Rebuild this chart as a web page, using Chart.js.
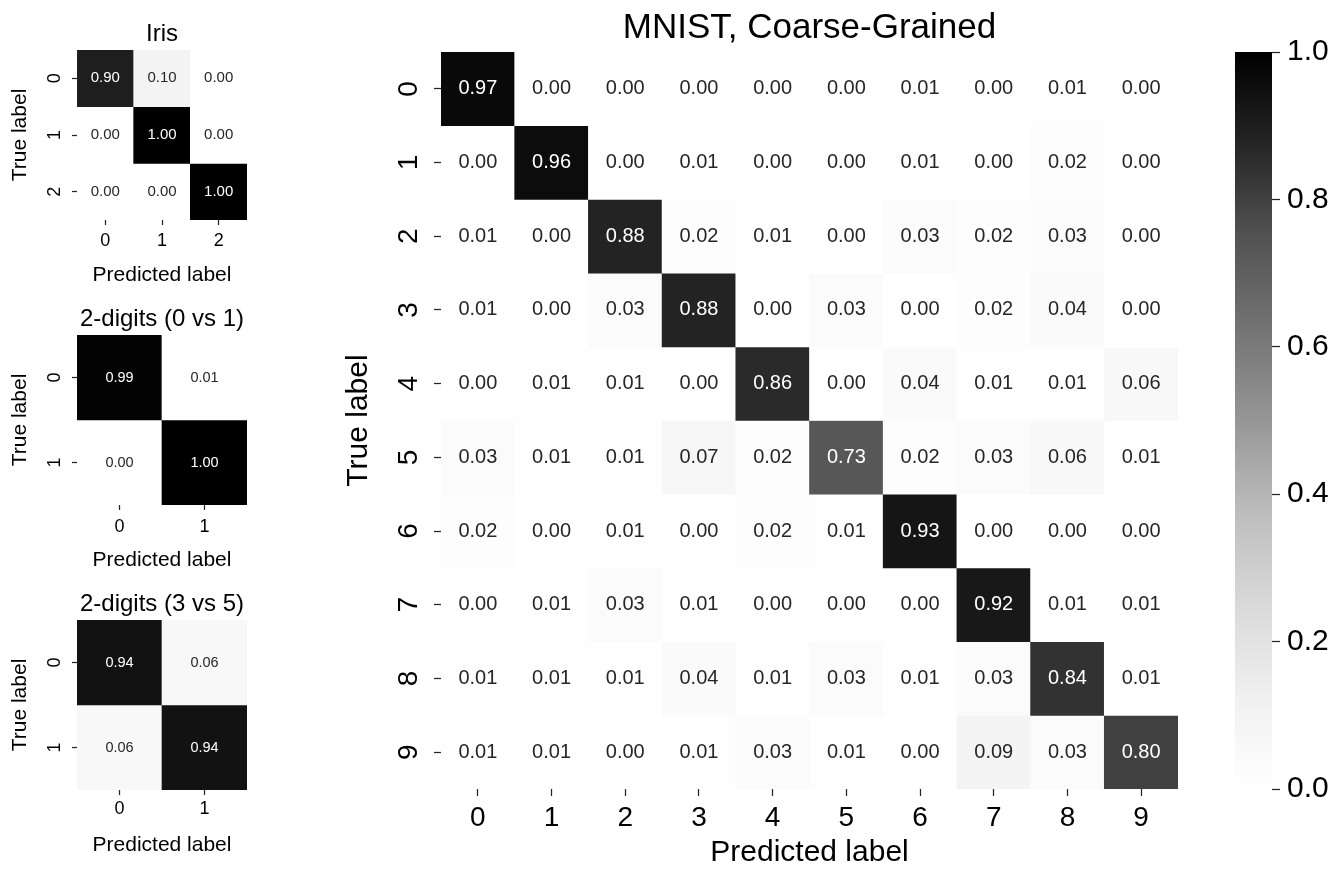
<!DOCTYPE html>
<html>
<head>
<meta charset="utf-8">
<script src="https://cdn.jsdelivr.net/npm/chart.js@4.4.1/dist/chart.umd.min.js"></script>
<style>
  html, body { margin: 0; padding: 0; background: #fff; }
  body { width: 1333px; height: 877px; position: relative; overflow: hidden; }
  canvas { position: absolute; }
</style>
</head>
<body>
<canvas id="mnist" width="939" height="877" style="left:340px;top:0px"></canvas>
<canvas id="barra" width="133" height="877" style="left:1200px;top:0px"></canvas>
<canvas id="iris" width="260" height="290" style="left:0px;top:0px"></canvas>
<canvas id="d01" width="260" height="290" style="left:0px;top:290px"></canvas>
<canvas id="d35" width="260" height="297" style="left:0px;top:580px"></canvas>
<script>
// ============================
// DATA
// ============================
const irisLabels = ['0', '1', '2'];
const irisMatrix = [
  [0.90, 0.10, 0.00],
  [0.00, 1.00, 0.00],
  [0.00, 0.00, 1.00]
];

const digitLabels = ['0', '1'];
const digits01Matrix = [
  [0.99, 0.01],
  [0.00, 1.00]
];
const digits35Matrix = [
  [0.94, 0.06],
  [0.06, 0.94]
];

const mnistLabels = ['0', '1', '2', '3', '4', '5', '6', '7', '8', '9'];
const mnistMatrix = [
  [0.97, 0.00, 0.00, 0.00, 0.00, 0.00, 0.01, 0.00, 0.01, 0.00],
  [0.00, 0.96, 0.00, 0.01, 0.00, 0.00, 0.01, 0.00, 0.02, 0.00],
  [0.01, 0.00, 0.88, 0.02, 0.01, 0.00, 0.03, 0.02, 0.03, 0.00],
  [0.01, 0.00, 0.03, 0.88, 0.00, 0.03, 0.00, 0.02, 0.04, 0.00],
  [0.00, 0.01, 0.01, 0.00, 0.86, 0.00, 0.04, 0.01, 0.01, 0.06],
  [0.03, 0.01, 0.01, 0.07, 0.02, 0.73, 0.02, 0.03, 0.06, 0.01],
  [0.02, 0.00, 0.01, 0.00, 0.02, 0.01, 0.93, 0.00, 0.00, 0.00],
  [0.00, 0.01, 0.03, 0.01, 0.00, 0.00, 0.00, 0.92, 0.01, 0.01],
  [0.01, 0.01, 0.01, 0.04, 0.01, 0.03, 0.01, 0.03, 0.84, 0.01],
  [0.01, 0.01, 0.00, 0.01, 0.03, 0.01, 0.00, 0.09, 0.03, 0.80]
];

const colorbarRange = [0, 1];

// ============================
// COLOUR MAP (matplotlib Greys)
// ============================
const greys = [1.0, 0.941, 0.851, 0.741, 0.588, 0.451, 0.322, 0.145, 0.0];

function greyColor(v) {
  const t = Math.min(Math.max(v, 0), 1) * (greys.length - 1);
  const i = Math.min(Math.floor(t), greys.length - 2);
  const g = greys[i] + (greys[i + 1] - greys[i]) * (t - i);
  const c = Math.round(g * 255);
  return `rgb(${c},${c},${c})`;
}

Chart.defaults.font.family = '"Liberation Sans", Arial, sans-serif';
Chart.defaults.color = '#000';

// ============================
// CELL TEXT
// ============================
const cellText = {
  id: 'cellText',
  afterDatasetsDraw(chart, args, opts) {
    const ctx = chart.ctx;
    ctx.save();
    ctx.font = `${opts.size}px "Liberation Sans", Arial, sans-serif`;
    ctx.textAlign = 'center';
    ctx.textBaseline = 'middle';
    chart.data.datasets.forEach((ds, i) => {
      chart.getDatasetMeta(i).data.forEach((bar, j) => {
        const v = ds.values[j];
        ctx.fillStyle = v > 0.5 ? '#ffffff' : '#262626';
        ctx.fillText(v.toFixed(2), bar.x, (bar.y + bar.base) / 2);
      });
    });
    ctx.restore();
  }
};

// ============================
// HEATMAP
// ============================
function drawMatrix(id, labels, matrix, cfg) {
  const datasets = matrix.map((row, i) => ({
    data: row.map(() => [i - 0.5, i + 0.5]),
    values: row,
    backgroundColor: row.map(v => greyColor(v)),
    borderWidth: 0,
    barPercentage: 1,
    categoryPercentage: 1,
    grouped: false
  }));

  new Chart(document.getElementById(id), {
    type: 'bar',
    data: { labels, datasets },
    options: {
      responsive: false,
      animation: false,
      layout: { padding: { left: 0, right: cfg.padRight, top: 0, bottom: 0 } },
      scales: {
        x: {
          grid: {
            offset: false, drawOnChartArea: false, drawTicks: true,
            tickLength: cfg.tickLen, tickColor: '#262626', tickWidth: 1.25
          },
          border: { display: false },
          ticks: { font: { size: cfg.tickSize }, color: '#000', padding: cfg.xTickPad, maxRotation: 0 },
          title: {
            display: true, text: 'Predicted label',
            font: { size: cfg.axisSize }, color: '#000',
            padding: { top: 0, bottom: cfg.xTitlePad }
          },
          afterFit: s => { s.height = cfg.xAxisHeight; }
        },
        y: {
          type: 'linear',
          min: -0.5,
          max: labels.length - 0.5,
          reverse: true,
          afterBuildTicks: s => { s.ticks = labels.map((_, i) => ({ value: i })); },
          grid: {
            drawOnChartArea: false, drawTicks: true,
            tickLength: cfg.tickLen, tickColor: '#262626', tickWidth: 1.25
          },
          border: { display: false },
          ticks: {
            callback: v => labels[v],
            font: { size: cfg.tickSize }, color: '#000',
            padding: cfg.yTickPad,
            minRotation: 90, maxRotation: 90,
            crossAlign: 'center', autoSkip: false
          },
          title: {
            display: true, text: 'True label',
            font: { size: cfg.axisSize }, color: '#000',
            padding: { top: cfg.yTitlePad, bottom: 0 }
          },
          afterFit: s => { s.width = cfg.yAxisWidth; }
        }
      },
      plugins: {
        legend: { display: false },
        tooltip: { enabled: false },
        title: {
          display: true, text: cfg.title, fullSize: false,
          font: { size: cfg.titleSize, weight: 'normal' }, color: '#000',
          padding: { top: cfg.titleTop, bottom: cfg.titleBottom }
        },
        cellText: { size: cfg.cellSize }
      }
    },
    plugins: [cellText]
  });
}

drawMatrix('iris', irisLabels, irisMatrix, {
  title: 'Iris', titleSize: 24, titleTop: 19.6, titleBottom: 1.6,
  tickSize: 18, tickLen: 5, xTickPad: 5.5, yTickPad: 12,
  axisSize: 21, xTitlePad: 2, yTitlePad: 8,
  cellSize: 15, yAxisWidth: 77, xAxisHeight: 70, padRight: 13
});

drawMatrix('d01', digitLabels, digits01Matrix, {
  title: '2-digits (0 vs 1)', titleSize: 24, titleTop: 15, titleBottom: 1.2,
  tickSize: 18, tickLen: 5, xTickPad: 6, yTickPad: 12,
  axisSize: 21, xTitlePad: 7.5, yTitlePad: 8,
  cellSize: 14.5, yAxisWidth: 77, xAxisHeight: 75, padRight: 13
});

drawMatrix('d35', digitLabels, digits35Matrix, {
  title: '2-digits (3 vs 5)', titleSize: 24, titleTop: 10, titleBottom: 1.2,
  tickSize: 18, tickLen: 5, xTickPad: 3.5, yTickPad: 12,
  axisSize: 21, xTitlePad: 19.5, yTitlePad: 8,
  cellSize: 14.5, yAxisWidth: 77, xAxisHeight: 87, padRight: 13
});

drawMatrix('mnist', mnistLabels, mnistMatrix, {
  title: 'MNIST, Coarse-Grained', titleSize: 35, titleTop: 7, titleBottom: 3,
  tickSize: 28, tickLen: 7, xTickPad: 5, yTickPad: 17,
  axisSize: 30, xTitlePad: 6.5, yTitlePad: 1,
  cellSize: 20, yAxisWidth: 101, xAxisHeight: 88, padRight: 101
});

// ============================
// COLORBAR
// ============================
new Chart(document.getElementById('barra'), {
  type: 'bar',
  data: {
    labels: [''],
    datasets: [{
      data: [colorbarRange],
      borderWidth: 0,
      barPercentage: 1,
      categoryPercentage: 1,
      backgroundColor: ctx => {
        const area = ctx.chart.chartArea;
        if (!area) return '#888';
        const g = ctx.chart.ctx.createLinearGradient(0, area.bottom, 0, area.top);
        greys.forEach((_, i) => {
          const t = i / (greys.length - 1);
          g.addColorStop(t, greyColor(t));
        });
        return g;
      }
    }]
  },
  options: {
    responsive: false,
    animation: false,
    layout: { padding: { left: 35, right: 0, top: 52, bottom: 88 } },
    scales: {
      x: { display: false },
      y: {
        position: 'right',
        min: colorbarRange[0],
        max: colorbarRange[1],
        grid: {
          drawOnChartArea: false, drawTicks: true,
          tickLength: 8, tickColor: '#262626', tickWidth: 1.25
        },
        border: { display: false },
        ticks: {
          stepSize: 0.2,
          callback: v => v.toFixed(1),
          font: { size: 30 }, color: '#000', padding: 7
        },
        afterFit: s => { s.width = 61; }
      }
    },
    plugins: {
      legend: { display: false },
      tooltip: { enabled: false }
    }
  }
});
</script>
</body>
</html>
